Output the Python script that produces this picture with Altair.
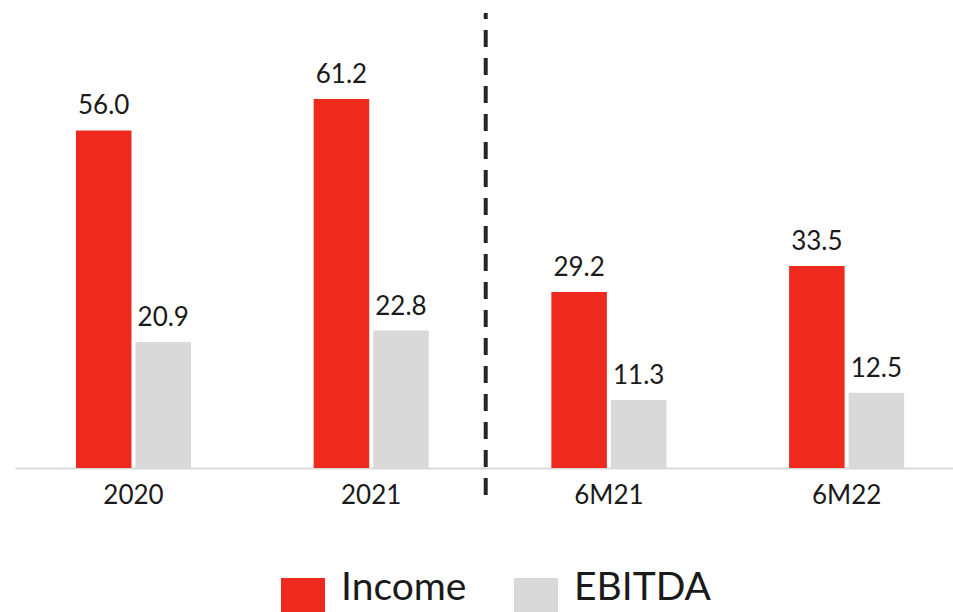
import altair as alt
import pandas as pd

categories = ["2020", "2021", "6M21", "6M22"]
income = [56.0, 61.2, 29.2, 33.5]
ebitda = [20.9, 22.8, 11.3, 12.5]
series = ["Income", "EBITDA"]
colors = ["#EE2A1E", "#D9D9D9"]

rows = []
for c, a, b in zip(categories, income, ebitda):
    rows.append({"cat": c, "series": "Income", "value": a})
    rows.append({"cat": c, "series": "EBITDA", "value": b})
df = pd.DataFrame(rows)

FONT = "Lato"

x = alt.X("cat:N", sort=categories, title=None,
          scale=alt.Scale(paddingInner=0.516, paddingOuter=0.231, align=0.555),
          axis=alt.Axis(labelAngle=0, ticks=False, domainColor="#D9D9D9", domainWidth=2,
                        labelFont=FONT, labelFontSize=26, labelColor="#1a1a1a",
                        labelPadding=14, grid=False))
xo = alt.XOffset("series:N", sort=series,
                 scale=alt.Scale(paddingInner=0.067, paddingOuter=0))
y = alt.Y("value:Q", scale=alt.Scale(domain=[0, 70]), axis=None)

bars = alt.Chart(df).mark_bar().encode(
    x=x, xOffset=xo, y=y,
    color=alt.Color("series:N", sort=series,
                    scale=alt.Scale(domain=series, range=colors),
                    legend=alt.Legend(title=None, orient="none", direction="horizontal",
                                      legendX=266, legendY=532,
                                      symbolType="square", symbolSize=1936,
                                      symbolStrokeWidth=0, labelFont=FONT,
                                      labelFontSize=39, labelColor="#1a1a1a",
                                      labelBaseline="alphabetic",
                                      labelOffset=16, columnPadding=47,
                                      labelLimit=400)),
)

labels = alt.Chart(df).mark_text(
    font=FONT, fontSize=26, color="#1a1a1a", baseline="alphabetic", dy=-16
).encode(x=x, xOffset=xo, y=y, text=alt.Text("value:Q", format=".1f"))

divider = alt.Chart(pd.DataFrame({"d": [0]})).mark_rule(
    color="#262626", strokeWidth=4, strokeDash=[17, 11], strokeDashOffset=11,
    xOffset=57
).encode(
    x=alt.X(datum="2021", bandPosition=1),
    y=alt.value(-33), y2=alt.value(451),
)

chart = alt.layer(bars, labels, divider).properties(
    width=938, height=422,
    autosize=alt.AutoSizeParams(type="none"),
    padding={"left": 15, "top": 46, "right": 0, "bottom": 144},
).configure_view(stroke=None)

chart.save("out.html", embed_options={"renderer": "svg", "actions": False})
